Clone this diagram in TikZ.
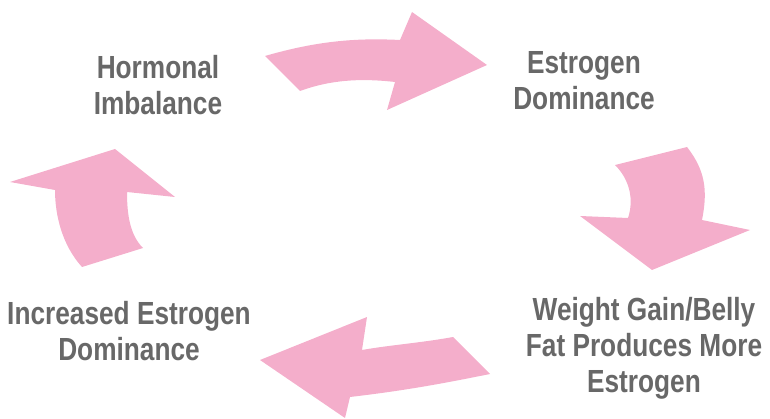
\documentclass[tikz,border=0pt]{standalone}
\usepackage{fontspec}
\newfontfamily\condfont[FakeStretch=0.82]{Liberation Sans}
\definecolor{arrowpink}{HTML}{F4AECB}
\definecolor{txtgray}{HTML}{686868}
\begin{document}
\begin{tikzpicture}[x=1pt,y=-1pt,
  lbl/.style={align=center,text=txtgray,font=\condfont\bfseries\fontsize{32}{36}\selectfont,inner sep=0pt},
  parrow/.style={fill=arrowpink,draw=none}]
\useasboundingbox (0,0) rectangle (770,419);
% labels
\node[lbl] (hi) at (158,85) {Hormonal\\Imbalance};
\node[lbl] (ed) at (584,81) {Estrogen\\Dominance};
\node[lbl] (wg) at (644,348) {Weight Gain/Belly\\Fat Produces More\\Estrogen};
\node[lbl] (ie) at (129,331) {Increased Estrogen\\Dominance};
% top arrow
\path[parrow] (265,56) .. controls (320,40) and (360,38) .. (400,40) -- (412,12) -- (487,65) -- (387,110) -- (395,82) .. controls (360,78) and (330,80) .. (300,91) -- cycle;
% right arrow
\path[parrow] (615,165) -- (687,147) .. controls (705,170) and (708,190) .. (702,220) -- (750,230) -- (652,270) -- (580,216) -- (628,218) .. controls (634,200) and (630,180) .. (615,165) -- cycle;
% bottom arrow
\path[parrow] (260,360) -- (367,317) -- (362,350) .. controls (390,345) and (420,343) .. (453,337) -- (490,374) .. controls (450,382) and (410,390) .. (350,397) -- (345,418) -- cycle;
% left arrow
\path[parrow] (115,149) -- (10,182) -- (55,190) .. controls (55,215) and (62,245) .. (82,267) -- (143,248) .. controls (130,235) and (127,215) .. (127,192) -- (175,197) -- cycle;
\end{tikzpicture}
\end{document}
